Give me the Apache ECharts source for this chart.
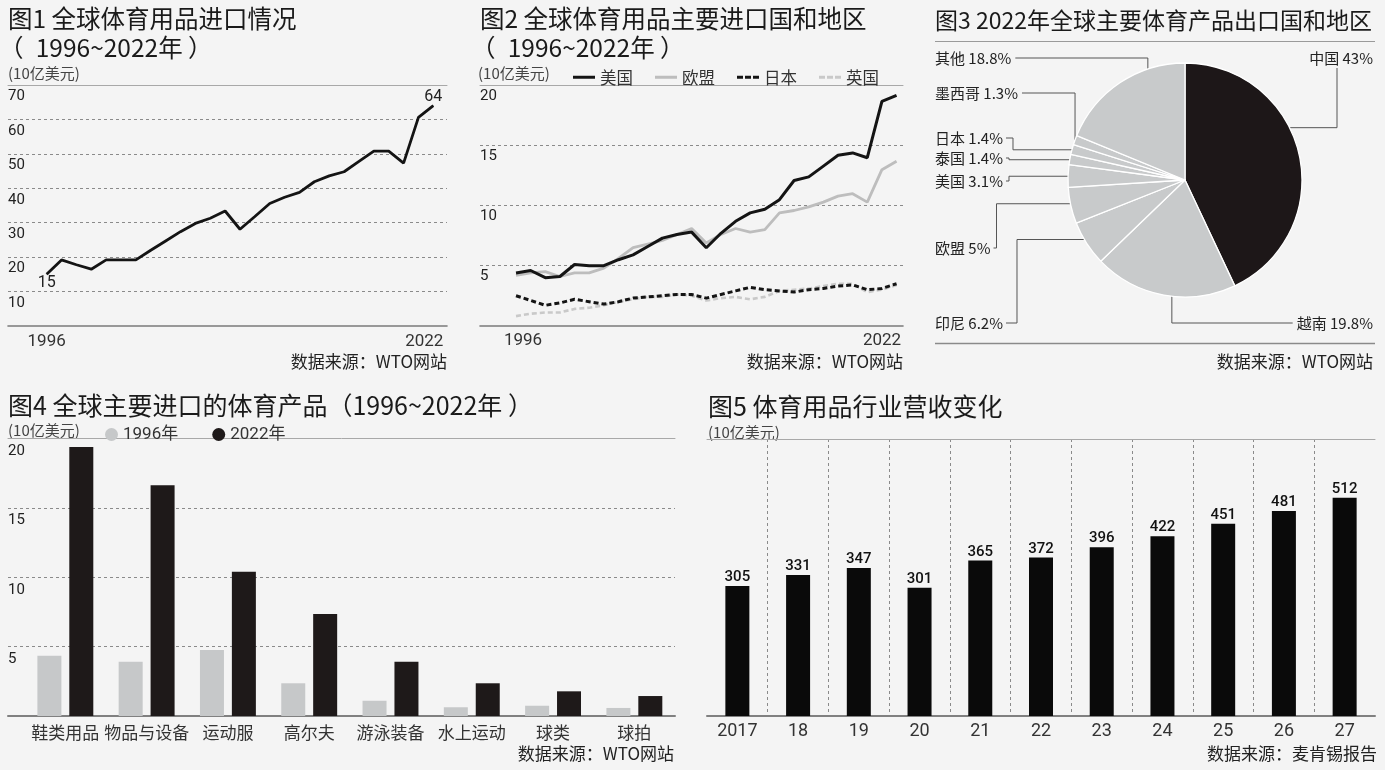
<!DOCTYPE html>
<html><head><meta charset="utf-8">
<script src="https://cdn.jsdelivr.net/npm/echarts@6/dist/echarts.min.js"></script>
<style>html,body{margin:0;padding:0;background:#f4f4f4}#c{width:1385px;height:770px}</style>
</head><body><div id="c"></div>
<script>
// ---------------- DATA ----------------
const years = [1996,1997,1998,1999,2000,2001,2002,2003,2004,2005,2006,2007,2008,2009,2010,2011,2012,2013,2014,2015,2016,2017,2018,2019,2020,2021,2022];
const globalImports = [15,19.2,17.8,16.5,19.2,19.2,19.2,22,24.7,27.4,29.8,31.3,33.4,28.1,31.8,35.6,37.4,38.8,41.9,43.6,44.8,47.8,50.8,50.8,47.3,60.6,64];
const fig1XTicks = [1996,2022];

const usImports = [4.4,4.6,4.0,4.1,5.1,5.0,5.0,5.5,5.9,6.6,7.3,7.6,7.8,6.5,7.7,8.7,9.4,9.7,10.5,12.1,12.4,13.3,14.2,14.4,14.0,18.7,19.2];
const euImports = [4.2,4.4,4.5,4.1,4.4,4.4,4.8,5.6,6.5,6.8,7.1,7.6,8.1,6.9,7.6,8.1,7.8,8.0,9.4,9.6,9.9,10.3,10.8,11.0,10.3,13.0,13.7];
const japanImports = [2.5,2.1,1.7,1.9,2.2,2.0,1.8,2.0,2.3,2.4,2.5,2.6,2.6,2.3,2.6,2.9,3.2,3.0,2.9,2.8,3.0,3.1,3.3,3.4,3.0,3.1,3.5];
const ukImports = [0.8,1.0,1.1,1.1,1.4,1.5,1.7,2.0,2.2,2.4,2.4,2.6,2.5,2.1,2.3,2.4,2.2,2.4,2.9,3.0,3.1,3.3,3.5,3.5,2.8,3.0,3.4];
const fig2Names = ['美国','欧盟','日本','英国'];

const pieNames = ['中国','越南','印尼','欧盟','美国','泰国','日本','墨西哥','其他'];
const pieShares = [43,19.8,6.2,5,3.1,1.4,1.4,1.3,18.8];

const productCats = ['鞋类用品','物品与设备','运动服','高尔夫','游泳装备','水上运动','球类','球拍'];
const imports1996 = [4.35,3.92,4.76,2.36,1.1,0.63,0.74,0.58];
const imports2022 = [19.4,16.65,10.4,7.35,3.92,2.36,1.78,1.44];
const fig4Names = ['1996年','2022年'];

const revenueYears = ['2017','18','19','20','21','22','23','24','25','26','27'];
const revenue = [305,331,347,301,365,372,396,422,451,481,512];

// ---------------- STYLE / LAYOUT ----------------
const CJK = "'Noto Sans CJK SC', sans-serif";
const NUM = "Roboto, 'Noto Sans CJK SC', sans-serif";
const DASH = {type:[3,3], color:'#8a8a8a', width:1};
const TOPLINE = {color:'#a8a8a8', width:1};
const BOTLINE = {color:'#7a7a7a', width:1.6};
const ICON_SOLID = 'path://M0,0h22v3h-22z';
const ICON_DASH = 'path://M0,0h6v3h-6zM8,0h6v3h-6zM16,0h6v3h-6z';
const fig2Icons = {'美国':ICON_SOLID, '欧盟':ICON_SOLID, '日本':ICON_DASH, '英国':ICON_DASH};

const pieCenter = [1185,180], pieR = 117;
const pieLabelPlace = {
  '中国':  {x:1373, y:58,  align:'right', route:'down', kx:1337, f:0.40, r:0.95},
  '越南':  {x:1373, y:323, align:'right', route:'rhv', f:0.49, r:0.665},
  '印尼':  {x:935,  y:323, align:'left', route:'knee', k:14, f:0.5, r:0.94},
  '欧盟':  {x:935,  y:248, align:'left', route:'knee', k:6, f:0.5, r:0.93},
  '美国':  {x:935,  y:181, align:'left', route:'knee', k:6, f:0.5, r:0.93},
  '泰国':  {x:935,  y:158, align:'left', route:'knee', k:6, f:0.5, r:0.99},
  '日本':  {x:935,  y:138, align:'left', route:'knee', k:10, f:0.5, r:0.99},
  '墨西哥':{x:935,  y:93,  align:'left', route:'hv', f:0.5, r:1.0},
  '其他':  {x:935,  y:58,  align:'left', route:'hv', f:0.63, r:0.75}
};
const pieTotal = pieShares.reduce((a,b)=>a+b,0);
const pieStarts = [];
pieShares.reduce((acc,v)=>{pieStarts.push(acc); return acc+v;},0);

const measureCtx = document.createElement('canvas').getContext('2d');
function textWidth(s, size){ measureCtx.font = size+'px '+CJK; return measureCtx.measureText(s).width; }

function pieLabelLayout(params){
  const i = params.dataIndex;
  const L = pieLabelPlace[pieNames[i]];
  const w = textWidth(pieNames[i]+' '+pieShares[i]+'%', 15);
  const deg = (pieStarts[i] + L.f*pieShares[i]) / pieTotal * 360;
  const a = deg*Math.PI/180;
  const ax = pieCenter[0] + L.r*pieR*Math.sin(a);
  const ay = pieCenter[1] - L.r*pieR*Math.cos(a);
  let pts;
  if (L.route==='down') pts = [[L.kx, L.y+10],[L.kx, ay],[ax, ay]];
  else if (L.route==='rhv') pts = [[L.x-w-4, L.y],[ax, L.y],[ax, ay]];
  else if (L.route==='hv') pts = [[L.x+w+4, L.y],[ax, L.y],[ax, ay]];
  else { const kx = L.x+w+L.k; pts = [[L.x+w+3, L.y],[kx, L.y],[kx, ay],[ax, ay]]; }
  return {x:L.x, y:L.y, align:L.align, verticalAlign:'middle', labelLinePoints:pts};
}

function txt(text, x, y, size, opts){
  opts = opts || {};
  return {type:'text', x:x, y:y, silent:true, style:{text:text, fill:opts.color||'#1a1a1a',
    font:(opts.weight||'normal')+' '+size+'px '+(opts.family||CJK),
    textAlign:opts.align||'left', align:opts.align||'left',
    textVerticalAlign:'middle', verticalAlign:'middle'}};
}
function hline(x1,x2,y,color,w){
  return {type:'line', silent:true, shape:{x1:x1,y1:y,x2:x2,y2:y}, style:{stroke:color, lineWidth:w}};
}
function topAxis(gi){
  return {gridIndex:gi, type:'value', position:'top', min:0, max:1,
    axisLine:{show:true, onZero:false, lineStyle:TOPLINE}, axisTick:{show:false}, axisLabel:{show:false}, splitLine:{show:false}};
}
function yAxisCfg(gi, max, interval, padTop){
  return {gridIndex:gi, type:'value', min:0, max:max, interval:interval,
    axisLine:{show:false}, axisTick:{show:false},
    axisLabel:{inside:true, margin:0, verticalAlign:'top', align:'left', padding:[padTop,0,0,0],
      fontSize:15, color:'#222', fontFamily:NUM, formatter:v=> v===0 ? '' : String(v)},
    splitLine:{show:true, showMinLine:false, showMaxLine:false, lineStyle:DASH}};
}
function endLabelData(xs, ys){
  return xs.map((x,i)=>{
    const item = {value:[x, ys[i]]};
    if (i===0) item.label = {show:true, position:'bottom', distance:0};
    if (i===xs.length-1) item.label = {show:true, position:'top', distance:0};
    return item;
  });
}

const option = {
  backgroundColor:'#f4f4f4',
  animation:false,
  textStyle:{fontFamily:CJK},
  grid:[
    {left:8, top:85, width:439, height:241},
    {left:480, top:85.7, width:423, height:240},
    {left:8, top:438.7, width:667, height:277.3},
    {left:24.7, top:438.7, width:650.3, height:277.3},
    {left:707, top:439, width:668, height:277}
  ],
  xAxis:[
    {gridIndex:0, type:'value', min:1993.4, max:2022.92,
      axisLine:{show:true, onZero:false, lineStyle:BOTLINE}, axisTick:{show:false}, splitLine:{show:false},
      axisLabel:{customValues:fig1XTicks, margin:7, fontSize:17, color:'#333', fontFamily:NUM,
        formatter:v=> v===2022 ? '{r|'+v+'}' : String(v),
        rich:{r:{fontSize:17, color:'#333', fontFamily:NUM, padding:[0,18,0,0]}}}},
    topAxis(0),
    {gridIndex:1, type:'value', min:1993.54, max:2022.44,
      axisLine:{show:true, onZero:false, lineStyle:BOTLINE}, axisTick:{show:false}, splitLine:{show:false},
      axisLabel:{customValues:fig1XTicks, margin:7, fontSize:17, color:'#333', fontFamily:NUM,
        formatter:v=> v===2022 ? '{r|'+v+'}' : '{l|'+v+'}',
        rich:{r:{fontSize:17, color:'#333', fontFamily:NUM, padding:[0,29,0,0]},
              l:{fontSize:17, color:'#333', fontFamily:NUM, padding:[0,0,0,14]}}}},
    topAxis(1),
    {gridIndex:2, type:'value', min:0, max:1,
      axisLine:{show:true, onZero:false, lineStyle:{color:'#808080', width:2}}, axisTick:{show:false}, axisLabel:{show:false}, splitLine:{show:false}},
    topAxis(2),
    {gridIndex:3, type:'category', data:productCats, axisLine:{show:false}, axisTick:{show:false},
      axisLabel:{interval:0, margin:8, fontSize:17, color:'#333', fontFamily:CJK}},
    {gridIndex:4, type:'category', data:revenueYears,
      axisLine:{show:true, onZero:false, lineStyle:{color:'#808080', width:2}}, axisTick:{show:false},
      axisLabel:{interval:0, margin:7, fontSize:18, color:'#333', fontFamily:NUM},
      splitLine:{show:true, interval:0, showMinLine:false, showMaxLine:false, lineStyle:DASH}},
    topAxis(4)
  ],
  yAxis:[
    yAxisCfg(0, 70, 10, 4),
    yAxisCfg(1, 20, 5, 3),
    yAxisCfg(2, 20, 5, 5),
    {gridIndex:3, type:'value', min:0, max:20, show:false},
    {gridIndex:4, type:'value', min:0, max:650, show:false}
  ],
  legend:[
    {data:fig2Names.map(n=>({name:n, icon:fig2Icons[n]})), left:568, top:64, itemWidth:22, itemHeight:12, itemGap:22, selectedMode:false,
      textStyle:{fontSize:16.5, color:'#333', fontFamily:CJK}},
    {data:fig4Names, left:100, top:421, itemWidth:13, itemHeight:13, itemGap:34, icon:'circle', selectedMode:false,
      textStyle:{fontSize:17, color:'#333', fontFamily:NUM}}
  ],
  series:[
    {type:'line', name:'全球进口', xAxisIndex:0, yAxisIndex:0, data:endLabelData(years, globalImports),
      symbol:'circle', symbolSize:0.5, showSymbol:true, itemStyle:{color:'#141414'},
      lineStyle:{color:'#141414', width:2.8}, silent:true,
      label:{show:false, formatter:p=>String(Math.round(p.value[1])), fontSize:16, color:'#222', fontFamily:NUM}},
    {type:'line', name:'英国', xAxisIndex:2, yAxisIndex:1, data:years.map((y,i)=>[y, ukImports[i]]),
      symbol:'none', itemStyle:{color:'#c9c9c9'}, lineStyle:{color:'#c9c9c9', width:2.6, type:[5,3]}, silent:true},
    {type:'line', name:'欧盟', xAxisIndex:2, yAxisIndex:1, data:years.map((y,i)=>[y, euImports[i]]),
      symbol:'none', itemStyle:{color:'#bdbdbd'}, lineStyle:{color:'#bdbdbd', width:2.8}, silent:true},
    {type:'line', name:'日本', xAxisIndex:2, yAxisIndex:1, data:years.map((y,i)=>[y, japanImports[i]]),
      symbol:'none', itemStyle:{color:'#141414'}, lineStyle:{color:'#141414', width:3, type:[5,3]}, silent:true},
    {type:'line', name:'美国', xAxisIndex:2, yAxisIndex:1, data:years.map((y,i)=>[y, usImports[i]]),
      symbol:'none', itemStyle:{color:'#141414'}, lineStyle:{color:'#141414', width:3}, silent:true},
    {type:'pie', center:pieCenter, radius:pieR, startAngle:90, clockwise:true, silent:true,
      data:pieNames.map((n,i)=>({name:n, value:pieShares[i], itemStyle:{color: i===0 ? '#1d1718' : '#c8cacb'}})),
      itemStyle:{borderColor:'#ffffff', borderWidth:1.3},
      label:{show:true, overflow:'none', formatter:p=>p.name+' '+p.value+'%', fontSize:15, color:'#222', fontFamily:CJK},
      labelLine:{show:true, length:4, length2:4, lineStyle:{color:'#555', width:1}},
      labelLayout:pieLabelLayout, emphasis:{disabled:true}},
    {type:'bar', name:'1996年', xAxisIndex:6, yAxisIndex:3, data:imports1996, barWidth:24, barGap:'33%',
      itemStyle:{color:'#c6c8c9'}, silent:true},
    {type:'bar', name:'2022年', xAxisIndex:6, yAxisIndex:3, data:imports2022, barWidth:24, barGap:'33%',
      itemStyle:{color:'#1e1919'}, silent:true},
    {type:'bar', name:'营收', xAxisIndex:7, yAxisIndex:4, data:revenue, barWidth:24,
      itemStyle:{color:'#0a0a0a'}, silent:true,
      label:{show:true, position:'top', distance:1, fontSize:15, fontWeight:500, color:'#111', fontFamily:NUM}}
  ],
  graphic:[
    txt('图1 全球体育用品进口情况', 8, 19, 24.5),
    txt('（\u20021996~2022年 ）', -1, 48, 24.5),
    txt('(10亿美元)', 8, 73, 15, {color:'#444'}),
    txt('数据来源：WTO网站', 447, 362, 17, {align:'right', color:'#222'}),
    txt('图2 全球体育用品主要进口国和地区', 480, 19, 24.5),
    txt('（\u20021996~2022年 ）', 471, 48, 24.5),
    txt('(10亿美元)', 478, 73, 15, {color:'#444'}),
    txt('数据来源：WTO网站', 903, 362, 17, {align:'right', color:'#222'}),
    txt('图3 2022年全球主要体育产品出口国和地区', 935, 20, 23),
    hline(935, 1375, 41.5, '#9a9a9a', 1),
    hline(935, 1375, 343.5, '#8a8a8a', 1.5),
    txt('数据来源：WTO网站', 1373, 362, 17, {align:'right', color:'#222'}),
    txt('图4 全球主要进口的体育产品（1996~2022年 ）', 8, 405, 25),
    txt('(10亿美元)', 8, 430, 15, {color:'#444'}),
    txt('数据来源：WTO网站', 674, 754, 17, {align:'right', color:'#222'}),
    txt('图5 体育用品行业营收变化', 708, 406, 25),
    txt('(10亿美元)', 708, 432, 15, {color:'#444'}),
    txt('数据来源：麦肯锡报告', 1377, 754, 17, {align:'right', color:'#222'})
  ]
};
const chart = echarts.init(document.getElementById('c'));
chart.setOption(option);
</script>
</body></html>
